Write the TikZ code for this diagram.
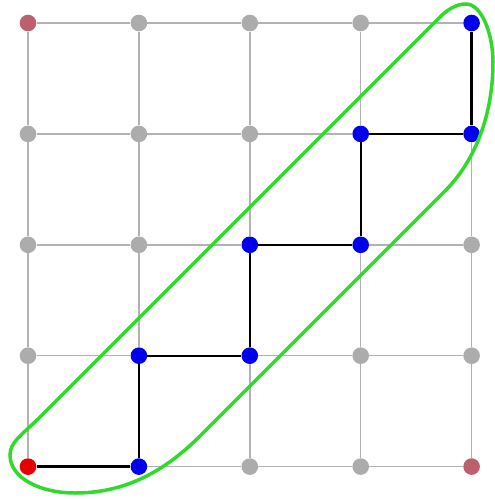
\documentclass[tikz,border=0pt]{standalone}
\begin{document}
\begin{tikzpicture}[x=1pt,y=-1pt]
\definecolor{dotgray}{RGB}{172,172,172}
\definecolor{linegray}{RGB}{178,178,178}
\definecolor{dotpink}{RGB}{188,96,110}
\definecolor{dotred}{RGB}{232,0,0}
\definecolor{dotblue}{RGB}{0,0,238}
\definecolor{loopgreen}{RGB}{48,218,40}
\tikzset{
  dotbase/.style={circle,inner sep=0pt,minimum size=16.6pt},
  gdot/.style={dotbase,fill=dotgray},
  pdot/.style={dotbase,fill=dotpink},
  rdot/.style={dotbase,fill=dotred},
  bdot/.style={dotbase,fill=dotblue},
  gridline/.style={draw=linegray,line width=1.4pt},
  pathline/.style={draw=black,line width=2.4pt},
  loopline/.style={draw=loopgreen,line width=3.5pt}
}
\fill[white] (0,0) rectangle (495,499);
\useasboundingbox (0,0) rectangle (495,499);
\foreach \c/\r/\s in {0/0/pdot,1/0/gdot,2/0/gdot,3/0/gdot,4/0/bdot,
                      0/1/gdot,1/1/gdot,2/1/gdot,3/1/bdot,4/1/bdot,
                      0/2/gdot,1/2/gdot,2/2/bdot,3/2/bdot,4/2/gdot,
                      0/3/gdot,1/3/bdot,2/3/bdot,3/3/gdot,4/3/gdot,
                      0/4/rdot,1/4/bdot,2/4/gdot,3/4/gdot,4/4/pdot}
  \node[\s] (n\c\r) at ({28+110.9*\c},{23+110.9*\r}) {};
\foreach \a [evaluate=\a as \b using int(\a+1)] in {0,...,3}
  \foreach \k in {0,...,4} {
    \draw[gridline] (n\a\k) -- (n\b\k);
    \draw[gridline] (n\k\a) -- (n\k\b);
  }
\draw[pathline] (n04) -- (n14) -- (n13) -- (n23) -- (n22) -- (n32) -- (n31) -- (n41) -- (n40);
\coordinate (g1) at (40,417);
\coordinate (g2) at (440,17);
\coordinate (g3) at (466,4);
\coordinate (g4) at (493,62);
\coordinate (g5) at (445,191);
\coordinate (g6) at (200,436);
\coordinate (g7) at (75,493);
\coordinate (g8) at (10,455);
\draw[loopline] (g1) -- (g2)
  .. controls (448,9) and (457,4) .. (g3)
  .. controls (482,4) and (493,35) .. (g4)
  .. controls (493,115) and (475,161) .. (g5)
  -- (g6)
  .. controls (160,476) and (120,493) .. (g7)
  .. controls (40,493) and (10,478) .. (g8)
  .. controls (10,442) and (22,435) .. (g1) -- cycle;
\end{tikzpicture}
\end{document}
